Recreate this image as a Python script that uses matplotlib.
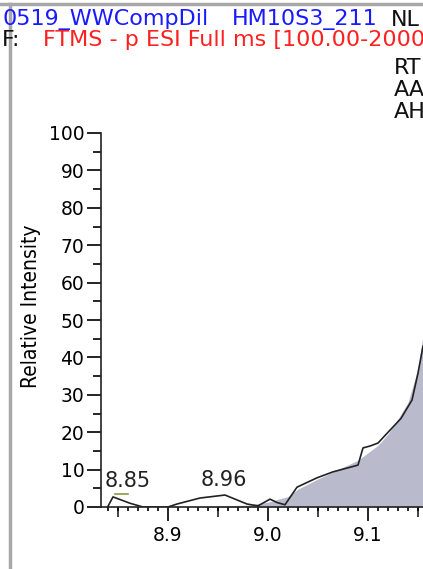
import numpy as np
import matplotlib.pyplot as plt
from matplotlib.lines import Line2D
from matplotlib.ticker import MultipleLocator

plt.rcParams['font.family'] = ['DejaVu Sans']

# chromatogram trace (black line)
rt = [8.840, 8.845, 8.862, 8.875, 8.900, 8.909, 8.932, 8.957, 8.979, 8.990,
      9.002, 9.009, 9.017, 9.029, 9.049, 9.065, 9.090, 9.095, 9.102, 9.110,
      9.133, 9.144, 9.150, 9.155]
intensity = [0.2, 2.7, 1.0, 0.0, 0.0, 0.8, 2.4, 3.2, 0.8, 0.3,
             2.1, 1.2, 0.6, 5.3, 7.8, 9.4, 11.2, 15.8, 16.3, 17.1,
             23.7, 28.6, 35.8, 43.0]

# integrated peak area (shaded)
area_rt = [8.930, 8.950, 8.980, 9.000, 9.020, 9.030, 9.050, 9.070, 9.090,
           9.100, 9.110, 9.120, 9.130, 9.140, 9.150, 9.155]
area_int = [0.0, 0.3, 0.5, 1.3, 2.8, 4.8, 7.5, 10.0, 12.5,
            14.5, 16.5, 19.5, 23.5, 28.0, 37.0, 46.0]

peak_labels = ['8.85', '8.96']
peak_label_rt = [8.860, 8.956]
peak_label_y = [5.3, 5.5]

W, H = 423, 569
fig = plt.figure(figsize=(W / 100, H / 100), dpi=100)
fig.patch.set_facecolor('white')

ax = fig.add_axes([101 / W, (H - 507) / H, (W - 101) / W, (507 - 133) / H])
ax.fill_between(area_rt, area_int, 0, color='#babacd', lw=0)
ax.plot(rt, intensity, color='#222222', lw=1.2)

ax.set_xlim(8.833, 9.155)
ax.set_ylim(0, 100)
for s in ['top', 'right']:
    ax.spines[s].set_visible(False)
for s in ['left', 'bottom']:
    ax.spines[s].set_linewidth(1.2)
    ax.spines[s].set_color('#222222')

ax.yaxis.set_major_locator(MultipleLocator(10))
ax.yaxis.set_minor_locator(MultipleLocator(5))
ax.xaxis.set_major_locator(MultipleLocator(0.1))
ax.xaxis.set_minor_locator(MultipleLocator(0.01))
ax.tick_params(axis='y', which='major', direction='out', length=10, width=1.2, pad=2, labelsize=13.5)
ax.tick_params(axis='y', which='minor', direction='out', length=6, width=1.2)
ax.tick_params(axis='x', which='major', direction='out', length=10, width=1.2, pad=4, labelsize=13.5)
ax.tick_params(axis='x', which='minor', direction='out', length=3, width=1.2)
ax.xaxis.set_major_formatter(plt.FuncFormatter(lambda v, p: f'{v:.1f}'))

# medium ticks at the half steps
sec = ax.secondary_xaxis('bottom')
sec.set_xticks([8.85, 8.95, 9.05, 9.15])
sec.set_xticklabels([])
sec.tick_params(length=7, width=1.2, direction='out', color='#222222')
sec.spines['bottom'].set_visible(False)

ax.set_ylabel('Relative Intensity', fontsize=15, fontstretch='condensed')
ax.yaxis.set_label_coords(-0.186, 0.537)

for lab, x, y in zip(peak_labels, peak_label_rt, peak_label_y):
    ax.text(x, y, lab, ha='center', va='baseline', fontsize=15, color='#222222')
ax.plot([8.847, 8.860], [3.5, 3.5], color='#8a9a40', lw=1.2)

# header text
fig.text(2 / W, 1 - 20 / H, '0519_WWCompDil', color='#1a1aff', fontsize=16, va='center')
fig.text(232 / W, 1 - 20 / H, 'HM10S3_211', color='#1a1aff', fontsize=16, va='center')
fig.text(391 / W, 1 - 20 / H, 'NL', color='#111111', fontsize=16, va='center')
fig.text(2 / W, 1 - 40 / H, 'F:', color='#111111', fontsize=16, va='center')
fig.text(43 / W, 1 - 40 / H, 'FTMS - p ESI Full ms [100.00-2000.00]', color='#ff2020', fontsize=16, va='center')
for i, t in enumerate(['RT', 'AA', 'AH']):
    fig.text(394 / W, 1 - (68 + 22 * i) / H, t, color='#111111', fontsize=16, va='center')

# window frame
fig.add_artist(Line2D([0, 1], [1 - 4 / H, 1 - 4 / H], color='#a8a8a8', lw=2.5))
fig.add_artist(Line2D([10 / W, 10 / W], [0, 1 - 4 / H], color='#a8a8a8', lw=2.5))

fig.savefig('out.png', dpi=100)
